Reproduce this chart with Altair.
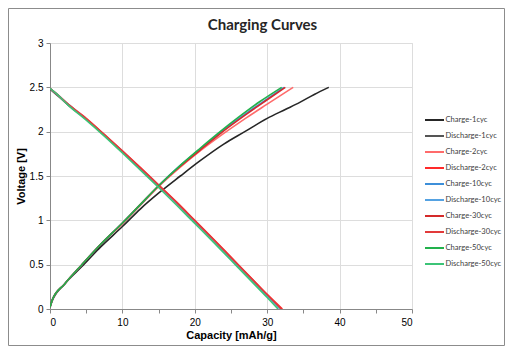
import altair as alt
import pandas as pd

# ---- data ----
series_names = ["Charge-1cyc", "Discharge-1cyc", "Charge-2cyc", "Discharge-2cyc",
                "Charge-10cyc", "Discharge-10cyc", "Charge-30cyc", "Discharge-30cyc",
                "Charge-50cyc", "Discharge-50cyc"]
series_colors = ["#262626", "#555555", "#ff6b6b", "#ff2a2a",
                 "#3d8fd9", "#55a2e2", "#d42a2a", "#e23a3a",
                 "#22b14c", "#3cc477"]

ch1_cap = [0, 0.3, 2, 4.4, 7, 10, 12.5, 15.2, 18, 20.7, 24, 26.9, 30, 32.5, 34.5, 36.5, 38.5]
ch1_v = [0.02, 0.09, 0.28, 0.48, 0.7, 0.93, 1.13, 1.32, 1.5, 1.67, 1.86, 2.0, 2.15, 2.25, 2.33, 2.42, 2.5]

ch2_cap = [0, 0.3, 2, 4.4, 7, 10, 12.5, 15, 18, 20.7, 24, 27, 30, 33.6]
ch2_v = [0.02, 0.1, 0.28, 0.5, 0.73, 0.96, 1.17, 1.38, 1.6, 1.78, 1.98, 2.15, 2.31, 2.5]

ch10_cap = [0, 0.3, 2, 4.4, 7, 10, 12.5, 15, 18, 20.7, 24, 27, 30, 32.3]
ch10_v = [0.02, 0.1, 0.28, 0.5, 0.73, 0.97, 1.18, 1.39, 1.62, 1.8, 2.02, 2.2, 2.37, 2.5]

ch30_cap = [0, 0.3, 2, 4.4, 7, 10, 12.5, 15, 18, 20.7, 24, 27, 30, 32.5]
ch30_v = [0.02, 0.1, 0.28, 0.5, 0.73, 0.97, 1.18, 1.39, 1.61, 1.79, 2.01, 2.19, 2.36, 2.5]

ch50_cap = [0, 0.3, 2, 4.4, 7, 10, 12.5, 15, 18, 20.7, 23.5, 26, 29, 32]
ch50_v = [0.02, 0.1, 0.28, 0.5, 0.73, 0.97, 1.18, 1.39, 1.62, 1.81, 2.0, 2.16, 2.34, 2.5]

dis1_cap = [0, 1, 2.5, 5, 7.5, 10, 12.5, 15, 17.5, 20, 22.5, 25, 27.5, 30, 31.85]
dis1_v = [2.48, 2.41, 2.3, 2.14, 1.96, 1.775, 1.585, 1.39, 1.195, 0.99, 0.785, 0.575, 0.365, 0.155, 0]

dis2_cap = [0, 1, 2.5, 5, 7.5, 10, 12.5, 15, 17.5, 20, 22.5, 25, 27.5, 30, 32.1]
dis2_v = [2.49, 2.42, 2.31, 2.15, 1.97, 1.785, 1.595, 1.4, 1.205, 1.0, 0.795, 0.585, 0.375, 0.165, 0]

dis10_cap = [0, 1, 2.5, 5, 7.5, 10, 12.5, 15, 17.5, 20, 22.5, 25, 27.5, 30, 31.8]
dis10_v = [2.49, 2.42, 2.31, 2.14, 1.96, 1.775, 1.58, 1.39, 1.19, 0.985, 0.78, 0.57, 0.36, 0.15, 0]

dis30_cap = [0, 1, 2.5, 5, 7.5, 10, 12.5, 15, 17.5, 20, 22.5, 25, 27.5, 30, 31.95]
dis30_v = [2.49, 2.42, 2.31, 2.145, 1.965, 1.78, 1.59, 1.395, 1.2, 0.995, 0.79, 0.58, 0.37, 0.16, 0]

dis50_cap = [0, 1, 2.5, 5, 7.5, 10, 12.5, 15, 17.5, 20, 22.5, 25, 27.5, 30, 31.5]
dis50_v = [2.49, 2.42, 2.3, 2.13, 1.95, 1.76, 1.565, 1.37, 1.17, 0.965, 0.76, 0.55, 0.34, 0.13, 0]

x_ticks = [0, 5, 10, 15, 20, 25, 30, 35, 40, 45, 50]
y_ticks = [0, 0.5, 1, 1.5, 2, 2.5, 3]
chart_title = "Charging Curves"

series_data = {
    "Charge-1cyc": (ch1_cap, ch1_v),
    "Discharge-1cyc": (dis1_cap, dis1_v),
    "Charge-2cyc": (ch2_cap, ch2_v),
    "Discharge-2cyc": (dis2_cap, dis2_v),
    "Charge-10cyc": (ch10_cap, ch10_v),
    "Discharge-10cyc": (dis10_cap, dis10_v),
    "Charge-30cyc": (ch30_cap, ch30_v),
    "Discharge-30cyc": (dis30_cap, dis30_v),
    "Charge-50cyc": (ch50_cap, ch50_v),
    "Discharge-50cyc": (dis50_cap, dis50_v),
}

rows = []
for name in series_names:
    caps, vs = series_data[name]
    for i, (c, v) in enumerate(zip(caps, vs)):
        rows.append({"series": name, "cap": c, "volt": v, "i": i})
df = pd.DataFrame(rows)
legend_df = pd.DataFrame({"series": series_names, "idx": list(range(len(series_names)))})

FONT = "Lato"
W, H = 362, 266
color_scale = alt.Scale(domain=series_names, range=series_colors)

lines = alt.Chart(df).mark_line(strokeWidth=1.6, clip=True, interpolate="monotone").encode(
    x=alt.X("cap:Q", title="Capacity [mAh/g]",
            scale=alt.Scale(domain=[0, 50], nice=False),
            axis=alt.Axis(values=x_ticks,
                          labelExpr="datum.value % 10 == 0 ? datum.label : ''",
                          gridOpacity={"condition": {"test": "datum.value % 10 == 0", "value": 1}, "value": 0},
                          tickSize=4, labelPadding=4, titlePadding=2)),
    y=alt.Y("volt:Q", title="Voltage [V]",
            scale=alt.Scale(domain=[0, 3], nice=False),
            axis=alt.Axis(values=y_ticks, format="~g", tickSize=4, labelPadding=3, titlePadding=3)),
    color=alt.Color("series:N", scale=color_scale, legend=None),
    order=alt.Order("i:Q"),
    detail="series:N",
)

leg_y = alt.Y("idx:Q", axis=None, scale=alt.Scale(domain=[0, 9], range=[77, 221], nice=False, zero=False))
leg_rules = alt.Chart(legend_df).mark_rule(strokeWidth=2).encode(
    x=alt.value(375), x2=alt.value(394), y=leg_y,
    color=alt.Color("series:N", scale=color_scale, legend=None),
)
leg_text = alt.Chart(legend_df).mark_text(align="left", baseline="middle", font=FONT,
                                          fontSize=7.6, color="#404040").encode(
    x=alt.value(395.5), y=leg_y, text="series:N",
)

title_text = alt.Chart(pd.DataFrame({"t": [chart_title]})).mark_text(
    align="center", baseline="middle", font=FONT, fontSize=15, fontWeight="bold", color="#262626"
).encode(x=alt.value(212.5), y=alt.value(-18.5), text="t:N")

frame = alt.Chart(pd.DataFrame({"a": [0]})).mark_rect(fill=None, stroke="#8c8c8c", strokeWidth=1).encode(
    x=alt.value(-41.5), x2=alt.value(454.5), y=alt.value(-34.5), y2=alt.value(302.5),
)

chart = alt.layer(lines, leg_rules, leg_text, title_text, frame).resolve_scale(
    y="independent"
).properties(
    width=W, height=H,
    autosize=alt.AutoSizeParams(type="none"),
    padding={"left": 42, "top": 35, "right": 93, "bottom": 37},
).configure_view(stroke=None).configure_axis(
    labelFont=FONT, labelFontSize=8.5, labelColor="#595959",
    titleFont=FONT, titleFontSize=8.5, titleFontWeight="bold", titleColor="#404040",
    gridColor="#d9d9d9", domainColor="#bfbfbf", tickColor="#bfbfbf",
).configure(background="white")

chart.save("out.html", embed_options={"renderer": "svg", "actions": False})
